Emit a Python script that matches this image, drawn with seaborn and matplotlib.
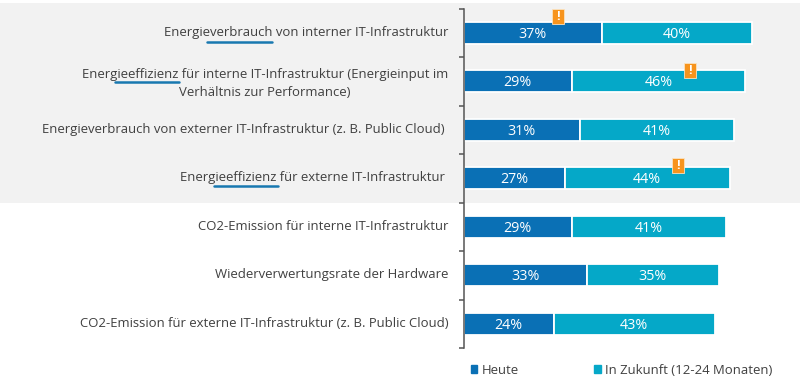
import matplotlib
matplotlib.use("Agg")
import matplotlib.pyplot as plt
import seaborn as sns
from matplotlib.lines import Line2D
from matplotlib.patches import Rectangle
from matplotlib.transforms import ScaledTranslation

categories = [
    "Energieverbrauch von interner IT-Infrastruktur",
    "Energieeffizienz für interne IT-Infrastruktur (Energieinput im\nVerhältnis zur Performance)",
    "Energieverbrauch von externer IT-Infrastruktur (z. B. Public Cloud) ",
    "Energieeffizienz für externe IT-Infrastruktur ",
    "CO2-Emission für interne IT-Infrastruktur",
    "Wiederverwertungsrate der Hardware",
    "CO2-Emission für externe IT-Infrastruktur (z. B. Public Cloud)",
]
heute = [37, 29, 31, 27, 29, 33, 24]
zukunft = [40, 46, 41, 44, 41, 35, 43]
series_names = ["Heute", "In Zukunft (12-24 Monaten)"]

W, H = 800, 388
BLUE = "#0a70b5"
TEAL = "#05a8c8"
TEXT = "#404040"
ORANGE = "#f7941d"

sns.set_theme(style="white")
plt.rcParams["font.family"] = ["Open Sans", "DejaVu Sans"]


def fx(px):
    return px / W


def fy(py):
    return 1 - py / H


fig = plt.figure(figsize=(8, 3.88), dpi=100)
fig.add_artist(Rectangle((0, fy(203)), 1, 200 / H, transform=fig.transFigure,
                         color="#f2f2f2", lw=0, zorder=-5))
ax = fig.add_axes([fx(463.5), fy(348), fx(800 - 463.5), 339.5 / H])
ax.patch.set_alpha(0)

sns.barplot(x=heute, y=categories, color=BLUE, saturation=1, width=0.46,
            edgecolor="white", linewidth=1.3, ax=ax)
sns.barplot(x=zukunft, y=categories, left=heute, color=TEAL, saturation=1, width=0.46,
            edgecolor="white", linewidth=1.3, ax=ax)
ax.set_xlim(0, 336.5 / 3.75)
ax.set_ylim(6.5, -0.5)

for c in ax.containers:
    for t in ax.bar_label(c, fmt="%d%%", label_type="center", color="white", fontsize=10.3):
        t.xyann = (0, -1.2)

sns.despine(ax=ax, top=True, right=True, bottom=True)
ax.spines["left"].set_color("#555555")
ax.spines["left"].set_linewidth(1.1)
ax.set_xticks([])
ax.set_xlabel("")
ax.set_yticks([i - 0.5 for i in range(8)], minor=True)
ax.tick_params(axis="y", which="minor", left=True, length=3.5, width=1.1, color="#555555")
ax.tick_params(axis="y", which="major", left=False, length=0, pad=11, labelsize=9.47, labelcolor=TEXT)
for lab in ax.get_yticklabels():
    lab.set_multialignment("center")
    lab.set_linespacing(1.5)
    lab.set_transform(lab.get_transform() + ScaledTranslation(0, 1.5 / 72, fig.dpi_scale_trans))

# underlined words in the labels
for x0, x1, y in [(207, 272, 41.5), (115, 179, 81.5), (214, 278, 186)]:
    fig.add_artist(Line2D([fx(x0), fx(x1)], [fy(y), fy(y)], transform=fig.transFigure,
                          color="#1878b0", lw=1.8))

# warning badges
for x, y in [(557.7, 16.7), (690.3, 70), (677.7, 165)]:
    fig.add_artist(Rectangle((fx(x - 6), fy(y + 7.5)), 12 / W, 15 / H, transform=fig.transFigure,
                             facecolor=ORANGE, edgecolor="#fbe3c0", lw=0.6, zorder=5))
    fig.text(fx(x), fy(y), "!", color="white", fontsize=9, fontweight="bold",
             ha="center", va="center", zorder=6)

handles = [Rectangle((0, 0), 1, 1, color=BLUE), Rectangle((0, 0), 1, 1, color=TEAL)]
fig.legend(handles, series_names, loc="center left", ncol=2, frameon=False,
           bbox_to_anchor=(fx(459), fy(370)), fontsize=9.47, labelcolor=TEXT,
           handlelength=0.5, handleheight=0.5, handletextpad=0.3, columnspacing=5.75)

fig.savefig("out.png", dpi=100)
